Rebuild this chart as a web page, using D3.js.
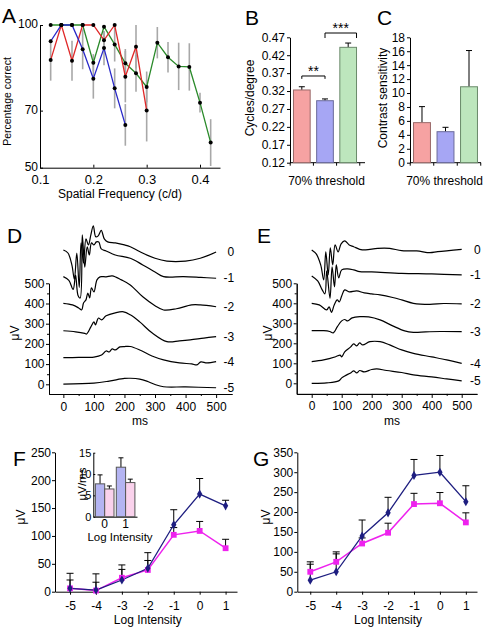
<!DOCTYPE html>
<html><head><meta charset="utf-8">
<script src="https://cdn.jsdelivr.net/npm/d3@7"></script>
<style>
body{margin:0;background:#fff}
svg{display:block;font-family:"Liberation Sans",Arial,Helvetica,sans-serif}
</style></head><body>
<svg id="fig" width="486" height="630"></svg>
<script>
// ---------- DATA ----------
// Panel A: percentage correct vs spatial frequency
const aFreq = [0.12,0.14,0.16,0.18,0.20,0.22,0.24,0.26,0.28,0.30,0.32,0.34,0.36,0.38,0.40,0.42];
const aBlue = [94.3,100,100,91.5,81.2,91.9,77.8,65.0];
const aBlueErr = [0,0,0,7,7,6,7,7.3];
const aRed = [87.7,100,87.5,100,100,94.7,100,81.9,92.4,70.0];
const aRedErr = [7.2,0,7,0,0,3,0,9,7.6,10.8];
const aGreen = [100,100,100,100,86.8,99.4,93.2,86.6,83.1,78.3,93.8,88.7,85.5,85.3,72.8,58.8];
const aGreenErr = [0,0,0,0,3,0,6,5,6.5,5.4,5.5,5.3,8.3,8.3,3.5,8.2];
const aXTicks = [0.1,0.2,0.3,0.4];
const aYTicks = [50,70,100];

// Panels B, C: 70% threshold bars
const groups = ["Group 1","Group 2","Group 3"];
const bValues = [0.323,0.293,0.442];
const bErr = [0.009,0.005,0.012];
const bTicks = [0.12,0.17,0.22,0.27,0.32,0.37,0.42,0.47];
const cValues = [5.75,4.45,10.9];
const cErr = [2.3,0.63,5.2];
const cTicks = [0,2,4,6,8,10,12,14,16,18];

// Panels D, E: ERG traces [ms, µV]
const levels = ["0","-1","-2","-3","-4","-5"];
const dTrace0 = [[0,665],[15,650],[28,590],[36,520],[44,650],[52,480],[58,700],[66,600],[74,720],[82,690],[90,740],[98,785],[106,730],[114,735],[124,762],[134,720],[145,705],[170,700],[200,690],[219,681],[251,656],[300,624],[339,610],[400,610],[448,624],[500,655]];
const dTrace1 = [[0,533],[18,515],[32,470],[40,540],[48,440],[55,427],[62,740],[70,580],[78,680],[85,640],[92,700],[100,690],[108,705],[116,705],[124,670],[140,660],[170,640],[219,624],[260,591],[300,556],[328,533],[393,533],[450,529],[500,525]];
const dTrace2 = [[0,401],[30,393],[50,378],[60,368],[66,403],[74,418],[80,452],[86,428],[92,477],[100,457],[110,517],[120,532],[140,532],[160,537],[190,517],[219,492],[260,433],[300,389],[328,368],[370,374],[420,393],[448,393],[500,384]];
const dTrace3 = [[0,265],[40,260],[70,252],[76,249],[90,284],[100,309],[105,294],[115,328],[125,319],[140,339],[170,354],[197,359],[219,344],[250,309],[290,255],[339,211],[380,215],[415,220],[460,229],[500,236]];
const dTrace4 = [[0,132],[50,133],[100,135],[125,145],[140,165],[150,160],[160,175],[170,170],[185,185],[200,187],[219,187],[250,170],[290,140],[328,121],[380,106],[420,101],[437,96],[450,111],[470,106],[500,112]];
const dTrace5 = [[0,1],[100,6],[150,16],[200,29],[219,30],[250,26],[273,16],[300,-1],[328,-12],[400,-13],[500,-17]];
const eTrace0 = [[0,667],[15,647],[30,592],[40,517],[47,657],[55,542],[62,677],[70,592],[78,692],[88,657],[98,697],[110,712],[125,692],[140,683],[160,670],[180,667],[220,675],[260,675],[300,663],[350,662],[394,653],[420,658],[500,670]];
const eTrace1 = [[0,537],[20,512],[35,467],[44,447],[50,562],[61,425],[68,582],[76,482],[82,592],[90,527],[100,567],[120,572],[140,567],[160,558],[200,557],[300,550],[400,547],[500,542]];
const eTrace2 = [[0,400],[25,392],[50,367],[58,382],[66,355],[75,392],[85,417],[92,407],[100,437],[110,467],[125,457],[150,462],[175,452],[200,447],[228,442],[270,429],[300,417],[339,400],[394,395],[440,399],[500,397]];
const eTrace3 = [[0,263],[40,263],[60,259],[72,252],[85,282],[100,312],[110,319],[120,312],[135,327],[161,333],[190,332],[228,317],[270,287],[310,262],[339,255],[380,257],[430,259],[500,258]];
const eTrace4 = [[0,108],[40,117],[80,133],[95,141],[100,132],[110,157],[130,182],[140,197],[150,187],[160,202],[170,192],[194,208],[228,208],[260,192],[300,167],[339,150],[400,132],[450,117],[500,100]];
const eTrace5 = [[0,0],[50,2],[90,12],[100,27],[110,37],[130,52],[140,62],[150,52],[160,64],[175,57],[200,69],[217,72],[250,64],[300,54],[339,42],[400,32],[450,22],[500,12]];
const ergXTicks = [0,100,200,300,400,500];
const ergYTicks = [0,100,200,300,400,500];

// Panels F, G: amplitude vs log intensity
const logI = [-5,-4,-3,-2,-1,0,1];
const fBlue = [6,3,21,42,120,175,154];
const fBlueErr = [15,14,19,28,27,28,10];
const fMag = [6,2,25,39,102,109,78];
const fMagErr = [27,30,23,17,13,17,16];
const gBlue = [29,50,140,198,292,300,226];
const gBlueErr = [40,45,40,39,40,42,40];
const gMag = [50,75,121,148,220,222,174];
const gMagErr = [25,25,14,24,27,27,24];
const fYTicks = [0,50,100,150,200,250];
const gYTicks = [0,50,100,150,200,250,300,350];
// F inset: µV/ms
const insetGroups = ["0","1"];
const insetBlue = [7.7,11.6];
const insetBlueErr = [2.1,2.2];
const insetPink = [6.5,8.0];
const insetPinkErr = [0.7,0.8];
const insetTicks = [0,5,10,15];

// ---------- DRAWING ----------
const svg = d3.select("#fig");
const FS = 12;
const hy = d => String(d); // plain hyphen-minus like the reference
function styleAxis(g, fs){
  g.attr("font-family", null).attr("font-size", fs || FS);
  g.selectAll("path,line").attr("stroke","#000").attr("stroke-width",1);
  g.selectAll("text").attr("fill","#000");
  return g;
}
function letter(x,y,t){ svg.append("text").attr("x",x).attr("y",y).attr("font-size",21).text(t); }
function label(x,y,t,rot,fs){
  const tx = svg.append("text").attr("font-size",fs||FS).attr("text-anchor","middle").text(t);
  if(rot) tx.attr("transform",`translate(${x},${y}) rotate(-90)`); else tx.attr("x",x).attr("y",y);
  return tx;
}

// ===== Panel A =====
{
  const x = d3.scaleLinear().domain([0.1,0.4375]).range([40,220]);
  const y = d3.scaleLinear().domain([50,100]).range([167.7,25]);
  styleAxis(svg.append("g").attr("transform",`translate(0,${y(50)})`)
    .call(d3.axisBottom(x).tickValues(aXTicks).tickFormat(d3.format(".1f")).tickSizeInner(-3).tickSizeOuter(0).tickPadding(7.5)), 13);
  styleAxis(svg.append("g").attr("transform",`translate(${x(0.1)},0)`)
    .call(d3.axisLeft(y).tickValues(aYTicks).tickSizeInner(-3).tickSizeOuter(0).tickPadding(2)), 12)
    .selectAll("text").attr("dy","0.2em");
  const series = [
    {v:aGreen, e:aGreenErr, c:"#2a8a2a"},
    {v:aRed, e:aRedErr, c:"#e02828"},
    {v:aBlue, e:aBlueErr, c:"#2828c8"}
  ];
  const eg = svg.append("g");
  series.forEach(s=>{
    s.v.forEach((v,i)=>{ if(s.e[i]>0) eg.append("line").attr("x1",x(aFreq[i])).attr("x2",x(aFreq[i]))
      .attr("y1",y(Math.max(50,v-s.e[i]))).attr("y2",y(Math.min(100,v+s.e[i])))
      .attr("stroke","#a8a8a8").attr("stroke-width",1.6); });
  });
  const line = d3.line().x((d,i)=>x(aFreq[i])).y(d=>y(d));
  series.forEach(s=> svg.append("path").datum(s.v).attr("d",line).attr("fill","none").attr("stroke",s.c).attr("stroke-width",1.3));
  series.forEach(s=> svg.append("g").selectAll("circle").data(s.v).join("circle")
    .attr("cx",(d,i)=>x(aFreq[i])).attr("cy",d=>y(d)).attr("r",2).attr("fill","#000"));
  label(120,198,"Spatial Frequency (c/d)");
  label(11,101.5,"Percentage correct",true,10.5);
  letter(2,23,"A");
}

// ===== Panels B, C =====
const barFill = ["#f6a2a2","#a6a6f4","#bde6bd"];
const barStroke = ["#9a6a6a","#6a6a9a","#6a8a6a"];
function barPanel(vals, errs, yDomain, ticks, fmt, xRange, yRange, xEnd, ylab, ylabX){
  const x = d3.scaleBand().domain(groups).range(xRange).paddingInner(0.28).paddingOuter(0.15);
  const y = d3.scaleLinear().domain(yDomain).range(yRange);
  styleAxis(svg.append("g").attr("transform",`translate(${xRange[0]},0)`)
    .call(d3.axisLeft(y).tickValues(ticks).tickFormat(fmt).tickSizeInner(3).tickSizeOuter(0).tickPadding(2)));
  const g = svg.append("g");
  g.append("line").attr("x1",xRange[0]).attr("x2",xEnd).attr("y1",y(yDomain[0])).attr("y2",y(yDomain[0])).attr("stroke","#000");
  const bounds = groups.map(d=>x(d)-x.step()*x.paddingInner()/2).concat([x(groups[2])+x.bandwidth()+x.step()*x.paddingInner()/2]);
  bounds.forEach(b=> g.append("line").attr("x1",b).attr("x2",b).attr("y1",y(yDomain[0])).attr("y2",y(yDomain[0])+3).attr("stroke","#000"));
  groups.forEach((k,i)=>{
    const cx = x(k)+x.bandwidth()/2;
    g.append("line").attr("x1",cx).attr("x2",cx).attr("y1",y(vals[i])).attr("y2",y(vals[i]+errs[i])).attr("stroke","#000");
    g.append("line").attr("x1",cx-3).attr("x2",cx+3).attr("y1",y(vals[i]+errs[i])).attr("y2",y(vals[i]+errs[i])).attr("stroke","#000");
    g.append("rect").attr("x",x(k)).attr("width",x.bandwidth()).attr("y",y(vals[i])).attr("height",y(yDomain[0])-y(vals[i]))
      .attr("fill",barFill[i]).attr("stroke",barStroke[i]).attr("stroke-width",1);
  });
  label((xRange[0]+xEnd)/2-1,185,"70% threshold");
  label(ylabX,98,ylab,true);
  return {x,y};
}
{
  const {x,y} = barPanel(bValues,bErr,[0.12,0.47],bTicks,d3.format(".2f"),[290,360],[162.7,37.3],365,"Cycles/degree",254);
  const c = k=>x(k)+x.bandwidth()/2;
  const br = [
    {x1:c(groups[0]), x2:c(groups[1]), top:0.362, leg:0.354, t:"**"},
    {x1:c(groups[1]), x2:x(groups[2])+x.bandwidth(), top:0.482, leg:0.468, t:"***"}
  ];
  br.forEach(b=>{
    svg.append("path").attr("d",`M${b.x1},${y(b.leg)}V${y(b.top)}H${b.x2}V${y(b.leg)}`).attr("fill","none").attr("stroke","#000");
    svg.append("text").attr("x",(b.x1+b.x2)/2).attr("y",y(b.top)).attr("text-anchor","middle").attr("font-size",14).text(b.t);
  });
  letter(245,25,"B");
}
{
  barPanel(cValues,cErr,[0,18],cTicks,d3.format("d"),[410,481],[162.7,37.3],481,"Contrast sensitivity",387);
  letter(377,25,"C");
}

// ===== Panels D, E =====
function ergPanel(traces, xDom, xRange, yDom, yRange, labEnd, msX, uvX){
  const x = d3.scaleLinear().domain(xDom).range(xRange);
  const y = d3.scaleLinear().domain(yDom).range(yRange);
  const y0 = yRange[0];
  styleAxis(svg.append("g").attr("transform",`translate(0,${y0})`)
    .call(d3.axisBottom(x).tickValues(ergXTicks).tickFormat(hy).tickSizeInner(4).tickSizeOuter(0).tickPadding(4)));
  styleAxis(svg.append("g").attr("transform",`translate(0,${y0})`)
    .call(d3.axisBottom(x).tickValues([50,150,250,350,450]).tickFormat("").tickSizeInner(2).tickSizeOuter(0)));
  styleAxis(svg.append("g").attr("transform",`translate(${xRange[0]},0)`)
    .call(d3.axisLeft(y).tickValues(ergYTicks).tickFormat(hy).tickSizeInner(3).tickSizeOuter(0).tickPadding(1.5)));
  styleAxis(svg.append("g").attr("transform",`translate(${xRange[0]},0)`)
    .call(d3.axisLeft(y).tickValues([50,150,250,350,450]).tickFormat("").tickSizeInner(2).tickSizeOuter(0)));
  const line = d3.line().x(d=>x(d[0])).y(d=>y(d[1])).curve(d3.curveCatmullRom.alpha(0.5));
  traces.forEach((tr,i)=>{
    svg.append("path").datum(tr).attr("d",line).attr("fill","none").attr("stroke","#000").attr("stroke-width",1.2).attr("stroke-linejoin","round");
    const last = tr[tr.length-1];
    svg.append("text").attr("x",x(last[0])+labEnd).attr("y",y(last[1])).attr("dy","0.35em").attr("text-anchor","end").attr("font-size",FS).text(levels[i]);
  });
  label(msX,425,"ms");
  label(uvX,333,"\u03bcV",true);
}
ergPanel([dTrace0,dTrace1,dTrace2,dTrace3,dTrace4,dTrace5],[-47,552],[49,232],[-48,500],[394,283.3],18,140,19);
letter(7,243,"D");
ergPanel([eTrace0,eTrace1,eTrace2,eTrace3,eTrace4,eTrace5],[-50,551],[296.7,477],[-53,500],[393.9,283.3],19,392,272);
letter(257,243,"E");

// ===== Panels F, G =====
function intensityPanel(blue, blueErr, mag, magErr, yMax, ticks, xRange, xDom, uvX){
  const x = d3.scaleLinear().domain(xDom).range(xRange);
  const y = d3.scaleLinear().domain([0,yMax]).range([591.7,452.3]);
  styleAxis(svg.append("g").attr("transform",`translate(0,${y(0)})`)
    .call(d3.axisBottom(x).tickValues(logI).tickFormat(hy).tickSizeInner(3).tickSizeOuter(0).tickPadding(7)));
  styleAxis(svg.append("g").attr("transform",`translate(${xRange[0]},0)`)
    .call(d3.axisLeft(y).tickValues(ticks).tickFormat(hy).tickSizeInner(3).tickSizeOuter(0).tickPadding(1)));
  const eg = svg.append("g");
  [[mag,magErr],[blue,blueErr]].forEach(([v,e])=>{
    v.forEach((d,i)=>{
      const cx = x(logI[i]);
      eg.append("line").attr("x1",cx).attr("x2",cx).attr("y1",y(d)).attr("y2",y(d+e[i])).attr("stroke","#000");
      eg.append("line").attr("x1",cx-3.5).attr("x2",cx+3.5).attr("y1",y(d+e[i])).attr("y2",y(d+e[i])).attr("stroke","#000");
    });
  });
  const line = d3.line().x((d,i)=>x(logI[i])).y(d=>y(d));
  svg.append("path").datum(mag).attr("d",line).attr("fill","none").attr("stroke","#ee22ee").attr("stroke-width",1.5);
  svg.append("path").datum(blue).attr("d",line).attr("fill","none").attr("stroke","#1e1e80").attr("stroke-width",1.3);
  svg.append("g").selectAll("path").data(mag).join("path")
    .attr("transform",(d,i)=>`translate(${x(logI[i])},${y(d)})`).attr("d",d3.symbol(d3.symbolSquare,34)).attr("fill","#ee22ee");
  svg.append("g").selectAll("path").data(blue).join("path")
    .attr("transform",(d,i)=>`translate(${x(logI[i])},${y(d)})`).attr("d",d3.symbol(d3.symbolDiamond,24)).attr("fill","#1e1e80");
  label((x(-5)+x(1))/2,624,"Log Intensity");
  label(uvX,517,"\u03bcV",true);
}
intensityPanel(fBlue,fBlueErr,fMag,fMagErr,250,fYTicks,[55,237],[-5.58,1.44],25);
letter(13,466,"F");
intensityPanel(gBlue,gBlueErr,gMag,gMagErr,350,gYTicks,[297.3,477],[-5.5,1.43],270);
letter(253,466,"G");

// F inset
{
  const gx = d3.scaleBand().domain(insetGroups).range([93.3,137]).paddingInner(0.11).paddingOuter(0.1);
  const sx = d3.scaleBand().domain(["a","b"]).range([0,gx.bandwidth()]);
  const y = d3.scaleLinear().domain([0,15]).range([516.7,452.7]);
  styleAxis(svg.append("g").attr("transform",`translate(93.3,0)`)
    .call(d3.axisLeft(y).tickValues(insetTicks).tickSizeInner(-2).tickSizeOuter(0).tickPadding(2)), 11);
  styleAxis(svg.append("g").attr("transform",`translate(0,${y(0)})`)
    .call(d3.axisBottom(gx).tickSizeInner(0).tickSizeOuter(0).tickPadding(3)), 12);
  const sets = [{k:"a",v:insetBlue,e:insetBlueErr,f:"#b4b4f2"},{k:"b",v:insetPink,e:insetPinkErr,f:"#fad2ec"}];
  sets.forEach(s=> insetGroups.forEach((gk,i)=>{
    const x0 = gx(gk)+sx(s.k), cx = x0+sx.bandwidth()/2;
    svg.append("line").attr("x1",cx).attr("x2",cx).attr("y1",y(s.v[i])).attr("y2",y(s.v[i]+s.e[i])).attr("stroke","#000");
    svg.append("line").attr("x1",cx-2.5).attr("x2",cx+2.5).attr("y1",y(s.v[i]+s.e[i])).attr("y2",y(s.v[i]+s.e[i])).attr("stroke","#000");
    svg.append("rect").attr("x",x0).attr("width",sx.bandwidth()).attr("y",y(s.v[i])).attr("height",y(0)-y(s.v[i]))
      .attr("fill",s.f).attr("stroke","#555");
  }));
  label(120,540.5,"Log Intensity",false,11.5);
  label(86,484,"\u03bcV/ms",true,11.5);
}
</script></body></html>
